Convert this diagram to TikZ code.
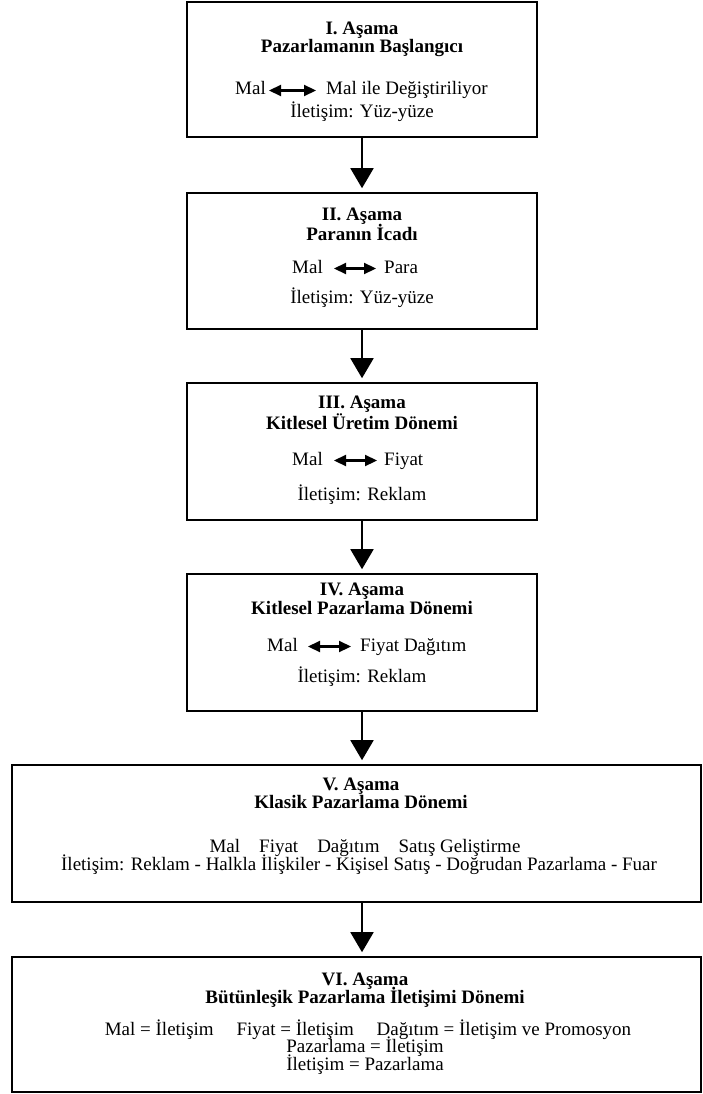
\documentclass[tikz,border=0pt]{standalone}
\usepackage{fontspec}
\setmainfont{Liberation Serif}
\usetikzlibrary{arrows.meta}
\tikzset{
  box/.style={draw, line width=1.6pt, minimum width=350pt, inner sep=0pt},
  widebox/.style={box, minimum width=689pt},
  flow/.style={-{Triangle[width=23pt,length=20pt]}, line width=1.8pt, shorten >=4pt},
  dbl/.style={{Triangle[width=11pt,length=12pt]}-{Triangle[width=11pt,length=12pt]}, line width=2.2pt},
  ttl/.style={font=\bfseries\fontsize{19}{19}\selectfont, anchor=base, inner sep=0pt},
  txt/.style={font=\fontsize{19}{19}\selectfont, anchor=base, inner sep=0pt},
  lt/.style={txt, text height=9pt, text depth=0pt},
}
\begin{document}
\begin{tikzpicture}[x=1pt,y=-1pt]
\useasboundingbox (0,0) rectangle (703,1094);
% boxes
\node[box, minimum height=135pt] (b1) at (362,69.5) {};
\node[box, minimum height=136pt] (b2) at (362,261) {};
\node[box, minimum height=137pt] (b3) at (362,451.5) {};
\node[box, minimum height=137pt] (b4) at (362,642.5) {};
\node[widebox, minimum height=137pt] (b5) at (356.5,833.5) {};
\node[widebox, minimum height=135pt] (b6) at (356.5,1024.5) {};
% arrows between boxes
\draw[flow] (b1) -- (b2);
\draw[flow] (b2) -- (b3);
\draw[flow] (b3) -- (b4);
\draw[flow] (b4.south) -- (b4.south |- b5.north);
\draw[flow] (b4.south |- b5.south) -- (b4.south |- b6.north);
% box 1
\node[ttl] (t1a) at (362,35) {I. Aşama};
\node[ttl] (t1b) at (362,53) {Pazarlamanın Başlangıcı};
\node[lt, anchor=base east] (m1) at (266,95) {Mal};
\node[lt, anchor=base west] (r1) at (326,95) {Mal ile Değiştiriliyor};
\draw[dbl, shorten <=3pt, shorten >=10pt] (m1.east) -- (r1.west);
\node[txt] (i1) at (362,118) {İletişim: Yüz-yüze};
% box 2
\node[ttl] (t2a) at (362,220) {II. Aşama};
\node[ttl] (t2b) at (362,240) {Paranın İcadı};
\node[lt, anchor=base east] (m2) at (323,273) {Mal};
\node[lt, anchor=base west] (r2) at (384,273) {Para};
\draw[dbl, shorten <=11pt, shorten >=8pt] (m2.east) -- (r2.west);
\node[txt] (i2) at (362,303) {İletişim: Yüz-yüze};
% box 3
\node[ttl] (t3a) at (362,408) {III. Aşama};
\node[ttl] (t3b) at (362,429) {Kitlesel Üretim Dönemi};
\node[lt, anchor=base east] (m3) at (323,465) {Mal};
\node[lt, anchor=base west] (r3) at (384,465) {Fiyat};
\draw[dbl, shorten <=11pt, shorten >=7pt] (m3.east) -- (r3.west);
\node[txt] (i3) at (362,500) {İletişim: Reklam};
% box 4
\node[ttl] (t4a) at (362,595) {IV. Aşama};
\node[ttl] (t4b) at (362,614) {Kitlesel Pazarlama Dönemi};
\node[lt, anchor=base east] (m4) at (298,651) {Mal};
\node[lt, anchor=base west] (r4) at (360,651) {Fiyat Dağıtım};
\draw[dbl, shorten <=10pt, shorten >=9pt] (m4.east) -- (r4.west);
\node[txt] (i4) at (362,682) {İletişim: Reklam};
% box 5
\node[ttl] (t5a) at (361,790) {V. Aşama};
\node[ttl] (t5b) at (361,808) {Klasik Pazarlama Dönemi};
\node[txt] (l5a) at (365,852) {Mal\hspace{1em}Fiyat\hspace{1em}Dağıtım\hspace{1em}Satış Geliştirme};
\node[txt] (l5b) at (359,870) {İletişim: Reklam - Halkla İlişkiler - Kişisel Satış - Doğrudan Pazarlama - Fuar};
% box 6
\node[ttl] (t6a) at (365,985) {VI. Aşama};
\node[ttl] (t6b) at (365,1003) {Bütünleşik Pazarlama İletişimi Dönemi};
\node[txt] (l6a) at (368,1035) {Mal = İletişim\hspace{1.2em}Fiyat = İletişim\hspace{1.2em}Dağıtım = İletişim ve Promosyon};
\node[txt] (l6b) at (365,1052) {Pazarlama = İletişim};
\node[txt] (l6c) at (365,1070) {İletişim = Pazarlama};
\end{tikzpicture}
\end{document}
